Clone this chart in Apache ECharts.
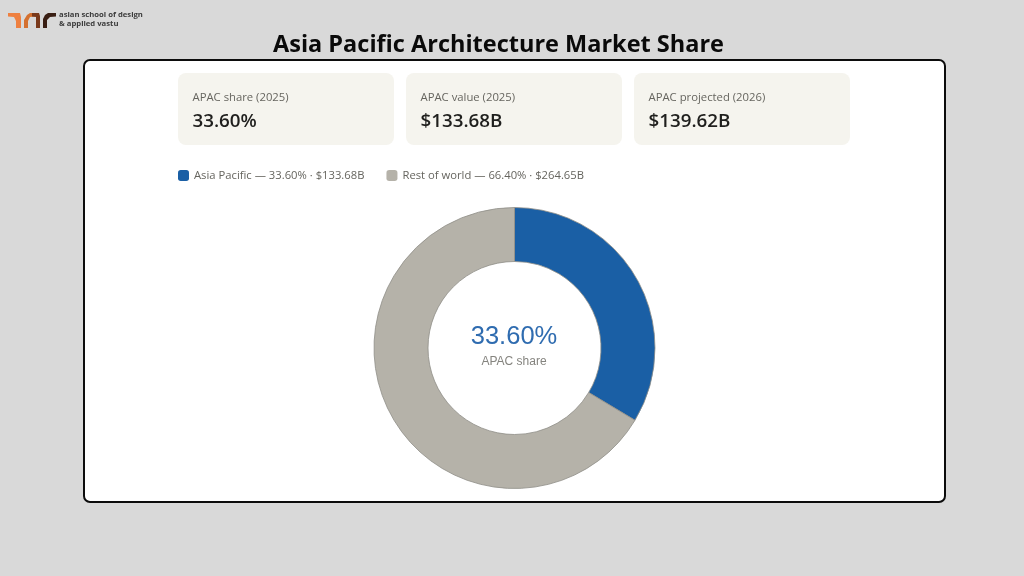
<!DOCTYPE html>
<html><head><meta charset="utf-8">
<style>html,body{margin:0;padding:0;background:#d9d9d9}#c{width:1024px;height:576px}</style>
<script src="https://cdn.jsdelivr.net/npm/echarts@6/dist/echarts.min.js"></script>
</head><body><div id="c"></div>
<script>
const categories = ['Asia Pacific', 'Rest of world'];
const shares = [33.60, 66.40];
const values = [133.68, 264.65];
const colors = ['#1a5fa5', '#b5b2a9'];
const cardLabels = ['APAC share (2025)', 'APAC value (2025)', 'APAC projected (2026)'];
const cardValues = ['33.60%', '$133.68B', '$139.62B'];
const title = 'Asia Pacific Architecture Market Share';
const centerValue = '33.60%';
const centerLabel = 'APAC share';
const logoLines = ['asian school of design', '& applied vastu'];

const UI = '"Open Sans","Noto Sans",sans-serif';
const g = [];
g.push({type:'rect',z:0,shape:{x:84,y:60,width:861,height:442,r:6},style:{fill:'#fff',stroke:'#0c0c0c',lineWidth:2}});
g.push({type:'text',z:2,x:498.5,y:45,style:{text:title,fill:'#0a0a0a',font:'bold 23.5px "Open Sans"',textAlign:'center',textVerticalAlign:'middle'}});
cardLabels.forEach((t,i)=>{
  const x = 178 + i*228;
  g.push({type:'rect',z:1,shape:{x:x,y:73,width:216,height:72,r:8},style:{fill:'#f5f4ee'}});
  g.push({type:'text',z:2,x:x+14.5,y:97.5,style:{text:t,fill:'#66655f',font:'11.3px '+UI,textVerticalAlign:'middle'}});
  g.push({type:'text',z:2,x:x+14.5,y:122,style:{text:cardValues[i],fill:'#1f1f1d',font:'600 18.8px '+UI,textVerticalAlign:'middle'}});
});
g.push({type:'text',z:3,x:514,y:337,style:{text:centerValue,fill:'#2f6cb0',font:'25.5px "Liberation Sans"',textAlign:'center',textVerticalAlign:'middle'}});
g.push({type:'text',z:3,x:514,y:362,style:{text:centerLabel,fill:'#85847f',font:'12px "Liberation Sans"',textAlign:'center',textVerticalAlign:'middle'}});
// logo
[[[8,13],[20,13],[21,17],[21,28],[16,28],[16,21],[14,17],[8,16.5]],
 [[24,28],[24,20],[27,15],[30,13],[35,13],[35,16.5],[30,17],[28,21],[28,28]],
 [[32,13],[39,13],[40,16],[40,28],[36,28],[36,17],[32,16.5]],
 [[43,28],[43,19],[45,15],[48,13],[56,13],[56,16.5],[50,17],[47,20],[47,28]]
].forEach((pts,i)=>{
  g.push({type:'polygon',z:2,shape:{points:pts},style:{fill:['#ee8040','#d4702f','#7a3a1c','#3a1f14'][i]}});
});
logoLines.forEach((t,i)=>{
  g.push({type:'text',z:2,x:59,y:14.5+i*9.7,style:{text:t,fill:'#3c3c3c',font:'bold 7.7px "Open Sans"',textVerticalAlign:'middle'}});
});

const chart = echarts.init(document.getElementById('c'), null, {renderer:'canvas'});
chart.setOption({
  animation:false,
  backgroundColor:'#d9d9d9',
  color:colors,
  graphic:g,
  legend:{
    left:178,top:170,padding:0,orient:'horizontal',itemWidth:11,itemHeight:11,itemGap:22,
    icon:'roundRect',selectedMode:false,
    itemStyle:{borderWidth:0},
    textStyle:{color:'#66655f',fontFamily:'Open Sans',fontSize:11.25,padding:[0,0,0,0]},
    formatter:n=>{const i=categories.indexOf(n);return n+' — '+shares[i].toFixed(2)+'% · $'+values[i].toFixed(2)+'B';},
    data:categories
  },
  series:[{
    type:'pie',center:[514.5,348],radius:[86.5,140.5],startAngle:90,clockwise:true,
    silent:true,label:{show:false},labelLine:{show:false},z:2,
    itemStyle:{borderColor:'#8f8e88',borderWidth:0.8},
    data:categories.map((n,i)=>({name:n,value:shares[i]}))
  }]
});
</script></body></html>
